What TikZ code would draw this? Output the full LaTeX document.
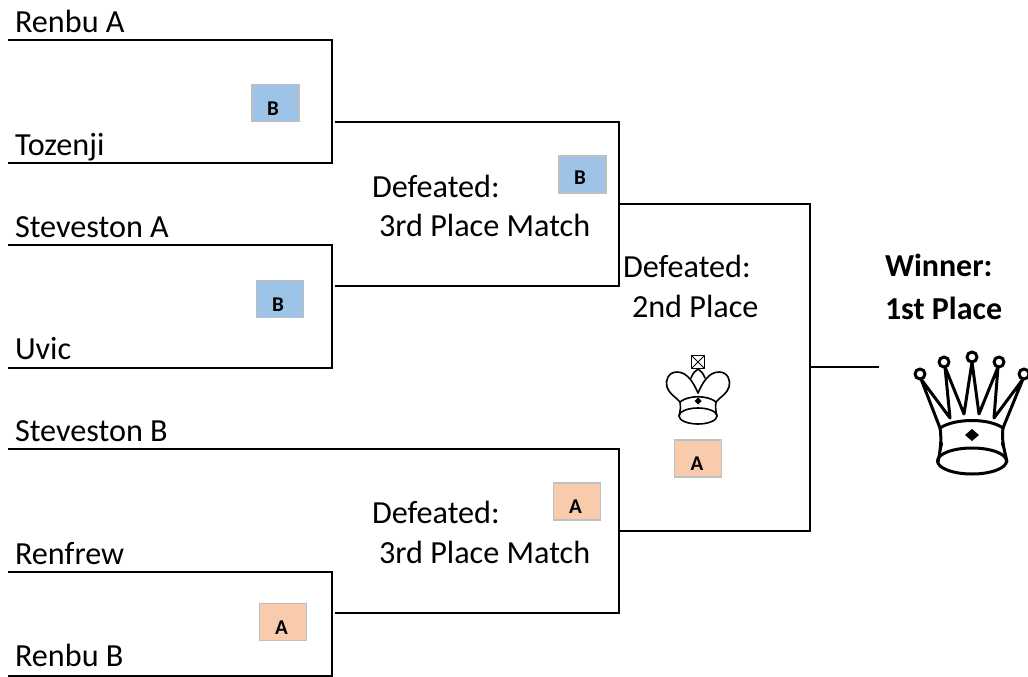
\documentclass[tikz,border=0pt]{standalone}
\usepackage{fontspec}
\setmainfont{Carlito}
\tikzset{
  x=1pt,y=-1pt,
  bracket/.style={draw=black,line width=1.5pt,line join=miter},
  lbl/.style={anchor=base west,inner sep=0pt,outer sep=0pt,font=\fontsize{32.2}{36}\selectfont},
  winlbl/.style={lbl,font=\fontsize{32}{36}\selectfont\bfseries},
  tagbox/.style={draw=boxgray,line width=1.4pt,minimum width=47pt,minimum height=37pt,inner sep=0pt,text height=24pt,text depth=0pt,font=\fontsize{21}{24}\selectfont\bfseries},
  tagb/.style={tagbox,fill=tagblue},
  taga/.style={tagbox,fill=tagorange},
  crown/.style={draw=black,line join=round,line cap=round}
}
\definecolor{boxgray}{HTML}{BFBFBF}
\definecolor{tagblue}{HTML}{9DC3E6}
\definecolor{tagorange}{HTML}{F8CBAD}
\begin{document}
\begin{tikzpicture}
\useasboundingbox (0,0) rectangle (1028,677);
% texts
\node[lbl] (t1) at (15,32.5) {Renbu A};
\node[lbl] (t2) at (15,155) {Tozenji};
\node[lbl] (t3) at (15,237.5) {Steveston A};
\node[lbl] (t4) at (15,359) {Uvic};
\node[lbl] (t5) at (15,441.5) {Steveston B};
\node[lbl] (t6) at (15,564) {Renfrew};
\node[lbl] (t7) at (15,666) {Renbu B};
\node[lbl] (d1) at (372,197) {Defeated:};
\node[lbl] (p1) at (379,236.5) {3rd Place Match};
\node[lbl] (d2) at (623,277.5) {Defeated:};
\node[lbl] (p2) at (632,317.5) {2nd Place};
\node[lbl] (d3) at (372,523.5) {Defeated:};
\node[lbl] (p3) at (379,563.5) {3rd Place Match};
\node[winlbl] (w1) at (885,276) {Winner:};
\node[winlbl] (w2) at (885,319) {1st Place};
% tags
\node[tagb] (b1) at (275.5,103) {\kern-5pt B};
\node[tagb,text height=20pt] (b2) at (582.5,174.5) {\kern-5pt B};
\node[tagb] (b3) at (280,299) {\kern-4pt B};
\node[taga] (a1) at (698,458.5) {\kern-2pt A};
\node[taga] (a2) at (577,501.5) {\kern-3pt A};
\node[taga] (a3) at (283,622) {\kern-3pt A};
% bracket corners
\coordinate (l1) at (8,40);   \coordinate (c1) at (332,40);
\coordinate (l2) at (8,163);  \coordinate (c2) at (332,163);
\coordinate (l3) at (8,245);  \coordinate (c3) at (332,245);
\coordinate (l4) at (8,368);  \coordinate (c4) at (332,368);
\coordinate (l5) at (8,449);  \coordinate (c5) at (619,449);
\coordinate (l6) at (8,572);  \coordinate (c6) at (332,572);
\coordinate (l7) at (8,676);  \coordinate (c7) at (332,676);
\coordinate (m1) at (335,122); \coordinate (n1) at (619,122);
\coordinate (m2) at (335,286); \coordinate (n2) at (619,286);
\coordinate (m3) at (335,613); \coordinate (n3) at (619,613);
\coordinate (r1) at (619,204); \coordinate (s1) at (810,204);
\coordinate (r2) at (619,531); \coordinate (s2) at (810,531);
\coordinate (s3) at (810,367); \coordinate (e)  at (879,367);
\draw[bracket] (l1) -- (c1) -- (c2) -- (l2);
\draw[bracket] (l3) -- (c3) -- (c4) -- (l4);
\draw[bracket] (l6) -- (c6) -- (c7) -- (l7);
\draw[bracket] (l5) -- (c5) -- (n3) -- (m3);
\draw[bracket] (m1) -- (n1) -- (n2) -- (m2);
\draw[bracket] (r1) -- (s1) -- (s2) -- (r2);
\draw[bracket] (s3) -- (e);
% large crown
\begin{scope}[crown,line width=3pt]
\draw (921,379) -- (940,428) (921,379) -- (950,418) -- (945,367) -- (964,414) -- (972,362) -- (979,414) -- (998,367) -- (994,418) -- (1023,379) -- (1003,428);
\foreach \px/\py in {920/374,944/362,972/357,999/362,1024/374}
  \draw (\px,\py) circle[radius=5];
\draw (940,428) .. controls (955,418) and (989,418) .. (1003,428);
\draw (940,428) .. controls (942,440) and (940,452) .. (938,462);
\draw (1003,428) .. controls (1001,440) and (1005,452) .. (1007,462);
\draw (972,461) ellipse[x radius=34.5,y radius=13];
\fill (972,429) -- (979,435) -- (972,441) -- (965,435) -- cycle;
\fill (940,436) -- (943,444) -- (941,452) -- cycle;
\fill (1003,436) -- (1001,444) -- (1004,452) -- cycle;
\end{scope}
% small king
\begin{scope}[crown,line width=1.6pt]
\draw (691.5,355.5) rectangle (704.5,368.5);
\draw[line width=1pt] (692,356) -- (704,368) (704,356) -- (692,368);
\draw (698,393) .. controls (694,384) and (688,372) .. (677,372)
  .. controls (668,372) and (665,381) .. (667,387) .. controls (669,394) and (676,397) .. (680,402);
\draw (698,393) .. controls (702,384) and (708,372) .. (719,372)
  .. controls (728,372) and (731,381) .. (729,387) .. controls (727,394) and (720,397) .. (716,402);
\draw (691,378) .. controls (693,373) and (695,371) .. (698,369) .. controls (701,371) and (703,373) .. (705,378);
\draw (680,402) .. controls (688,395) and (708,395) .. (716,402);
\draw (680,402) .. controls (681,408) and (680,412) .. (679,416);
\draw (716,402) .. controls (715,408) and (716,412) .. (717,416);
\draw (698,416) ellipse[x radius=19,y radius=8];
\fill (698,397.5) -- (701.5,401) -- (698,404.5) -- (694.5,401) -- cycle;
\end{scope}
\end{tikzpicture}
\end{document}
